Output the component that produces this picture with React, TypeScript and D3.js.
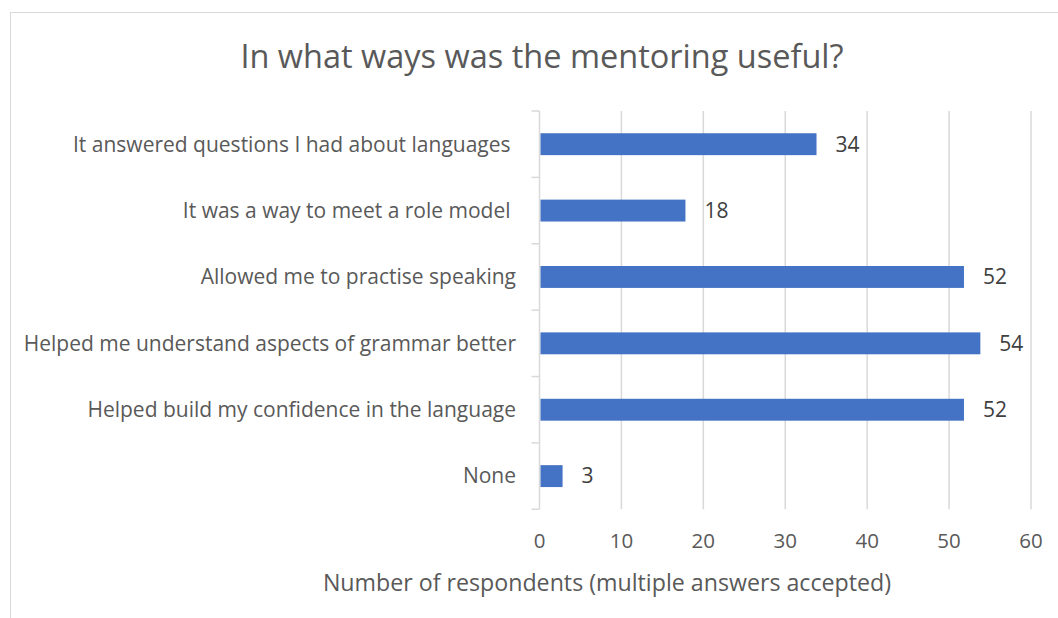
import React from "react";
import * as d3 from "d3";

const categories = [
  "It answered questions I had about languages ",
  "It was a way to meet a role model ",
  "Allowed me to practise speaking",
  "Helped me understand aspects of grammar better",
  "Helped build my confidence in the language",
  "None",
];
const values = [34, 18, 52, 54, 52, 3];
const xTicks = [0, 10, 20, 30, 40, 50, 60];
const title = "In what ways was the mentoring useful?";
const xTitle = "Number of respondents (multiple answers accepted)";

const W = 1058;
const H = 618;
const FONT = "'Open Sans', 'DejaVu Sans', sans-serif";

export default function App() {
  const plotLeft = 539.5;
  const plotRight = 1031;
  const plotTop = 111;
  const plotBottom = 509.3;

  const x = d3.scaleLinear().domain([0, 60]).range([plotLeft, plotRight]);
  const y = d3
    .scaleBand<string>()
    .domain(categories)
    .range([plotTop, plotBottom])
    .paddingInner(0.67)
    .paddingOuter(0.335);
  const step = (plotBottom - plotTop) / categories.length;

  return (
    <svg
      width={W}
      height={H}
      style={{ position: "absolute", left: 0, top: 0, background: "#fff" }}
      fontFamily={FONT}
    >
      <rect x={0} y={0} width={W} height={H} fill="#fff" />
      <rect x={10.5} y={12.5} width={W + 20} height={H + 20} fill="none" stroke="#d9d9d9" strokeWidth={1} />

      <text x={542} y={68} textAnchor="middle" fontSize={32.5} fill="#595959">
        {title}
      </text>

      {xTicks.slice(1).map((t) => (
        <line key={t} x1={x(t)} x2={x(t)} y1={plotTop} y2={plotBottom} stroke="#d9d9d9" strokeWidth={1.5} />
      ))}

      <line x1={plotLeft} x2={plotLeft} y1={plotTop} y2={plotBottom} stroke="#d9d9d9" strokeWidth={1.5} />
      {d3.range(categories.length + 1).map((i) => (
        <line
          key={i}
          x1={plotLeft - 8}
          x2={plotLeft}
          y1={plotTop + i * step}
          y2={plotTop + i * step}
          stroke="#d9d9d9"
          strokeWidth={1.5}
        />
      ))}

      {categories.map((c, i) => {
        const barEnd = x(values[i]) - 1.5;
        return (
          <g key={c}>
            <rect
              x={x(0) + 1}
              y={y(c)!}
              width={barEnd - x(0) - 1}
              height={y.bandwidth()}
              fill="#4472c4"
            />
            <text
              x={barEnd + 19}
              y={y(c)! + y.bandwidth() / 2}
              dy="0.35em"
              fontSize={21}
              fill="#404040"
            >
              {values[i]}
            </text>
            <text
              x={516}
              y={y(c)! + y.bandwidth() / 2}
              dy="0.35em"
              textAnchor="end"
              fontSize={21}
              fill="#595959"
              style={{ whiteSpace: "pre" }}
            >
              {c}
            </text>
          </g>
        );
      })}

      {xTicks.map((t) => (
        <text key={t} x={x(t)} y={548} textAnchor="middle" fontSize={20.5} fill="#595959">
          {t}
        </text>
      ))}

      <text x={607} y={591} textAnchor="middle" fontSize={23.2} fill="#595959">
        {xTitle}
      </text>
    </svg>
  );
}
